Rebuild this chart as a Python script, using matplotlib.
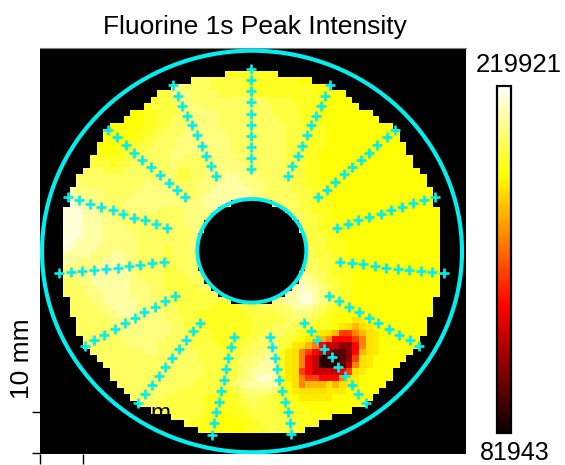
import numpy as np
import matplotlib
matplotlib.use("Agg")
import matplotlib.pyplot as plt
from matplotlib.patches import Ellipse

plt.rcParams['font.family'] = ['Liberation Sans', 'DejaVu Sans']

W, H = 565, 465
TITLE = "Fluorine 1s Peak Intensity"
SCALE_LABEL = "10 mm"
VMIN, VMAX = 81943, 219921

# intensity (counts) for each character used in the map rows
LEVELS = {'9': 214402, '8': 207503, '7': 201984, '6': 197845, '5': 193705,
          '4': 189566, '3': 185427, 'h': 181000, 'g': 178528, 'y': 170249,
          'o': 159211, 'O': 145413, 'r': 133005, 'R': 120577, 'd': 109539,
          'D': 98500, 'k': 88842}

MAP_ROWS = [
 "55555555 55555555 55555555 44444444 44444444 44444444 44444444",
 "66666666 66666666 66666655 55544444 44433333 33333333 33333333",
 "66666666 66666666 77666655 55544444 44444333 33333333 33333333",
 "55555555 55555555 77766665 55554444 44444433 33333333 33333333",
 "44444444 44444455 66766666 66666655 55444433 33333333 33333333",
 "44444444 44444555 56777666 66666665 55544433 33333333 33333333",
 "33333333 33334455 56677776 66666665 55544433 33333333 33333333",
 "33333333 33334455 66677776 66666666 55544433 33333333 33333333",
 "33333333 33334455 66777776 66666666 65554443 33333333 33333333",
 "33333333 33344556 66777777 66666666 65554443 33333333 33333333",
 "33333333 33445566 67777777 76666666 65554443 33333333 33333333",
 "44444333 34455666 67777777 76666666 65554443 33333333 33333333",
 "44444433 44556666 77777777 76666666 65554433 33333333 33333333",
 "55555444 45566666 77666777 77666666 65554433 33333333 33333333",
 "55555554 55666666 76666677 77766666 65554433 33333333 33333333",
 "66666655 56666666 65566777 77776666 66554433 33333333 33333333",
 "66666666 66666677 65566777 88777666 66554433 33333333 33333333",
 "77766666 66667777 66667778 88877766 66554443 33333333 33333333",
 "88777766 66677777 76667788 88887766 66555443 33333333 33333333",
 "98877766 66777777 77667888 88887766 66655443 33333333 33333333",
 "99887776 67777777 77777888 88887776 66655444 33333333 33333333",
 "99988777 66777766 66777788 88888776 66655444 33333333 33333333",
 "99988877 66666666 66777777 77777776 66665544 33333333 33333333",
 "99988877 76666666 66777777 77777777 66665544 43333333 33333333",
 "99988877 77666666 66677777 77777777 76665544 43333333 33333333",
 "99988877 77766666 66677777 77777777 76665554 43333333 33333333",
 "99888877 77766666 66677777 77777777 77665554 44333333 33333333",
 "98888777 77766665 66677777 77777777 77666554 44333333 33333333",
 "88887778 87766665 66667777 77777777 77666555 44333333 33333333",
 "88777788 87766665 66667777 77777777 77766655 44433333 33333333",
 "77777888 88766665 56666777 77777777 77776655 44433333 33333333",
 "77778888 88766665 55666677 77777777 77787665 44433333 33333333",
 "66778888 88776665 55566666 67777777 77888765 54433333 33333333",
 "66677888 88777665 55556666 66777777 78898876 54433333 33333333",
 "66677788 88777666 55555566 66677777 78899876 54433333 33333333",
 "66667788 88877766 55555555 56666677 78899876 54433333 33333333",
 "66666778 88877766 65555544 44555666 67888765 44333333 33333333",
 "66666677 88877776 65554444 44455555 66777654 43333333 33333333",
 "66666667 77777776 66554444 44445555 56666544 333hh333 33333333",
 "66666666 77777777 66555444 44445556 66554444 3hgygh33 33333333",
 "66666666 77777777 66555544 44445566 65543hhg yOOoygh3 33333333",
 "66666666 67777776 66655544 44455666 5543hgyo rrrOogh3 33333333",
 "66666666 66777766 66655554 44556667 54hgyorR Rddrogh3 33333333",
 "66666666 66667766 66665555 45566777 4hgoOrRd DDdrygh3 33333333",
 "66666666 66666666 66665555 55667788 4hgorRkk kDdOgh33 33333333",
 "66666666 66666666 66666555 55677888 4hgorRkk kDRogh33 33333333",
 "66666666 66666666 66666555 55678888 4hgOrRRR RrOgh333 33333333",
 "66666666 66666666 66665555 55778998 4hgoOOrr rogh3333 33333333",
 "66666666 66666666 66655555 56788888 43goyyyg yghh3333 33333333",
 "66666666 66666666 65555554 45677776 43hggggh hh333333 33333333",
 "66666666 66666665 55555444 44566655 443hhhhh 33333333 33333333",
 "66666666 66666655 55555444 44556555 44433333 33334444 33333333",
 "66666666 66666655 55555444 44455555 44444333 33333333 33333333",
 "66666666 66666555 55554443 33445555 55444444 33333333 33333333",
 "66666666 66666555 55544433 33344555 55544444 33333333 33333333",
 "66666666 66666555 55544433 33344455 55544444 33333333 33333333",
]

# first and one-past-last measured column in every row
ROW_START = [24, 19, 16, 14, 13, 12, 10, 9, 7, 6, 6, 5, 5, 4, 4, 3, 2, 2, 1, 1, 1,
             0, 0, 0, 0, 0, 0, 0, 0, 0, 0, 0, 0, 0, 0, 1, 1, 1, 2, 2, 2, 3, 3, 4, 5,
             6, 7, 7, 8, 9, 10, 11, 13, 16, 18, 20]
ROW_END = [32, 37, 40, 42, 43, 44, 46, 47, 49, 50, 50, 51, 51, 52, 52, 53, 54, 54, 55,
           55, 55, 56, 56, 56, 56, 56, 56, 56, 56, 56, 56, 56, 56, 56, 56, 55, 55, 55,
           54, 54, 54, 53, 53, 52, 51, 50, 49, 49, 48, 47, 46, 45, 43, 40, 38, 36]
# half width (columns) of the unmeasured centre, rows 20..35
HOLE_ROWS = list(range(20, 36))
HOLE_HALF = [3, 5, 6, 7, 7, 8, 8, 8, 8, 8, 8, 7, 7, 6, 5, 3]

# measurement points, one pair of lists per spoke (figure pixel units of the stage)
SP_A_X = [173, 178, 182.3, 187, 192.3, 197, 201.7, 206, 210.7, 216]
SP_A_Y = [85.3, 95.7, 105.7, 115.7, 125.3, 135.3, 145.7, 156, 166, 176.3]
SP_B_X = [108.3, 116.7, 125.7, 134, 142.3, 151.3, 160, 168.7, 177.3, 184.7]
SP_B_Y = [130.3, 137.3, 144.7, 153, 159.7, 167, 174.7, 182.7, 189.7, 196.7]
SP_C_X = [68.3, 78.7, 90, 101.3, 112.7, 123, 134, 145.3, 156.3, 167]
SP_C_Y = [196.7, 200, 203.7, 207, 210.3, 214, 217.7, 220.3, 224.3, 228]
SP_V_X = [250.5, 250.5, 250.5, 250.5, 250.5, 250.5, 250.5, 250.5, 250.5, 250.5]
SP_V_Y = [68.7, 80, 91.3, 102.3, 113.7, 124.7, 135.7, 146.7, 158, 168.7]
SP_D_X = [330.3, 325.3, 321.3, 316, 311, 307.3, 302, 298, 292.3, 288.3]
SP_D_Y = [85.3, 95.7, 105.7, 116, 125.3, 135.3, 145.7, 155.7, 166, 176.3]
SP_E_X = [394.7, 387, 377.3, 369.3, 361.3, 352.3, 343.7, 334.7, 326.7, 318.3]
SP_E_Y = [130.3, 137.3, 144.7, 152.7, 159.7, 167, 174.3, 182.3, 189.7, 196.7]
SP_F_X = [435, 424.3, 413.3, 402.3, 391, 381, 369, 358, 347.7, 336.7]
SP_F_Y = [196.7, 200, 203.3, 207, 210.3, 214, 217, 220.3, 224.3, 228]
SP_G_X = [59.3, 71.3, 82.3, 94, 105.7, 117.7, 129, 140, 151.7, 163.7]
SP_G_Y = [272.7, 271.7, 270.7, 269.7, 268.7, 267.7, 266.3, 264.7, 263.3, 262.3]
SP_H_X = [85, 94.3, 104.3, 114.7, 124.7, 135.3, 144.3, 154.7, 164.7, 174.7]
SP_H_Y = [345.7, 340, 335, 328.7, 323.3, 318.3, 312.3, 307.3, 301, 296]
SP_I_X = [138.3, 145.3, 151.7, 159, 165.3, 172, 179, 186, 192.7, 199.7]
SP_I_Y = [402.7, 393.7, 385, 375.7, 367.3, 357.7, 349.3, 340.3, 331, 322.7]
SP_J_X = [211.7, 213.7, 216, 219.3, 220.7, 224, 226, 228.3, 231, 233.7]
SP_J_Y = [434.7, 423, 412.3, 401.7, 390.7, 380, 368.7, 358.3, 347.3, 337]
SP_K_X = [291.3, 289.7, 287.7, 284.7, 282.3, 279.3, 277.3, 275.3, 272, 270.3]
SP_K_Y = [434.3, 423, 412, 401.7, 390.7, 380, 368.7, 358.3, 347.3, 337]
SP_L_X = [365.7, 358, 352, 344.7, 338, 331.7, 324.3, 317.3, 311, 303.7]
SP_L_Y = [402.7, 393.7, 385, 375.7, 367, 357.3, 349.3, 340.3, 331, 322.7]
SP_M_X = [419, 409.7, 399.3, 389, 378.3, 368.7, 359.3, 349.3, 339, 328.7]
SP_M_Y = [345.7, 340, 335, 328.7, 323.3, 318.3, 312.3, 307.3, 301, 296]
SP_N_X = [444, 432, 420.7, 409.3, 398, 386, 375, 363.3, 352.3, 339.7]
SP_N_Y = [272.7, 271.7, 270.7, 269.7, 268.7, 267.7, 266.3, 264.3, 263.3, 262.3]
SPOKES = [(SP_A_X, SP_A_Y), (SP_B_X, SP_B_Y), (SP_C_X, SP_C_Y), (SP_V_X, SP_V_Y),
          (SP_D_X, SP_D_Y), (SP_E_X, SP_E_Y), (SP_F_X, SP_F_Y), (SP_G_X, SP_G_Y),
          (SP_H_X, SP_H_Y), (SP_I_X, SP_I_Y), (SP_J_X, SP_J_Y), (SP_K_X, SP_K_Y),
          (SP_L_X, SP_L_Y), (SP_M_X, SP_M_Y), (SP_N_X, SP_N_Y)]

N = 56
grid = np.full((N, N), np.nan)
for r, row in enumerate(MAP_ROWS):
    s = row.replace(" ", "")
    s = (s + s[-1] * N)[:N]
    for c in range(ROW_START[r], ROW_END[r]):
        grid[r, c] = LEVELS[s[c]]
for r, hw in zip(HOLE_ROWS, HOLE_HALF):
    grid[r, 28 - hw:28 + hw] = np.nan
grid = np.ma.masked_invalid(grid)

CYAN = "#00f0f0"
AX_L, AX_R, AX_T, AX_B = 39.5, 465.5, 48, 453.5


def fx(px):
    return px / W


def fy(py):
    return 1 - py / H


fig = plt.figure(figsize=(W / 100, H / 100), dpi=100)
ax = fig.add_axes([fx(AX_L), fy(AX_B), (AX_R - AX_L) / W, (AX_B - AX_T) / H])
ax.set_facecolor("black")
im = ax.imshow(grid, cmap="hot", vmin=VMIN, vmax=VMAX, interpolation="nearest",
               aspect="auto", extent=(63.3, 440.3, 432.7, 71.3), zorder=1)
ax.set_xlim(AX_L, AX_R)
ax.set_ylim(AX_B, AX_T)

ax.text(171, 419.5, SCALE_LABEL, color="black", fontsize=17.5, ha="right",
        va="baseline", zorder=2, clip_on=True)

ax.add_patch(Ellipse((252, 251.5), 420, 401.6, fill=False, ec=CYAN, lw=3, zorder=3))
ax.add_patch(Ellipse((251.8, 250.8), 109, 103.6, fill=False, ec=CYAN, lw=2.8, zorder=3))
for xs, ys in SPOKES:
    ax.plot(xs, ys, ls="none", marker="+", ms=7, mew=1.9, color=CYAN, zorder=4)

ax.set_xticks([40, 83.3])
ax.set_yticks([412, 453.3])
ax.set_xticklabels([])
ax.set_yticklabels([])
ax.tick_params(axis="x", direction="out", length=7, width=1, color="black")
ax.tick_params(axis="y", direction="out", length=5.5, width=1, color="black")
for side in ("left", "right", "bottom"):
    ax.spines[side].set_visible(False)
ax.spines["top"].set_color("#808080")
ax.spines["top"].set_linewidth(0.8)

cax = fig.add_axes([fx(497), fy(432.5), 14 / W, 346.5 / H])
cb = fig.colorbar(im, cax=cax)
cb.set_ticks([])
cb.outline.set_edgecolor("black")
cb.outline.set_linewidth(1.6)

fig.text(fx(254.5), fy(27), TITLE, fontsize=19, ha="center", va="center")
fig.text(fx(518.5), fy(65), f"{VMAX}", fontsize=18.5, ha="center", va="center")
fig.text(fx(514.5), fy(459.5), f"{VMIN}", fontsize=18, ha="center", va="baseline")
fig.text(fx(22), fy(359), SCALE_LABEL, fontsize=19, rotation=90, ha="center", va="center")

fig.savefig("out.png", dpi=100)
